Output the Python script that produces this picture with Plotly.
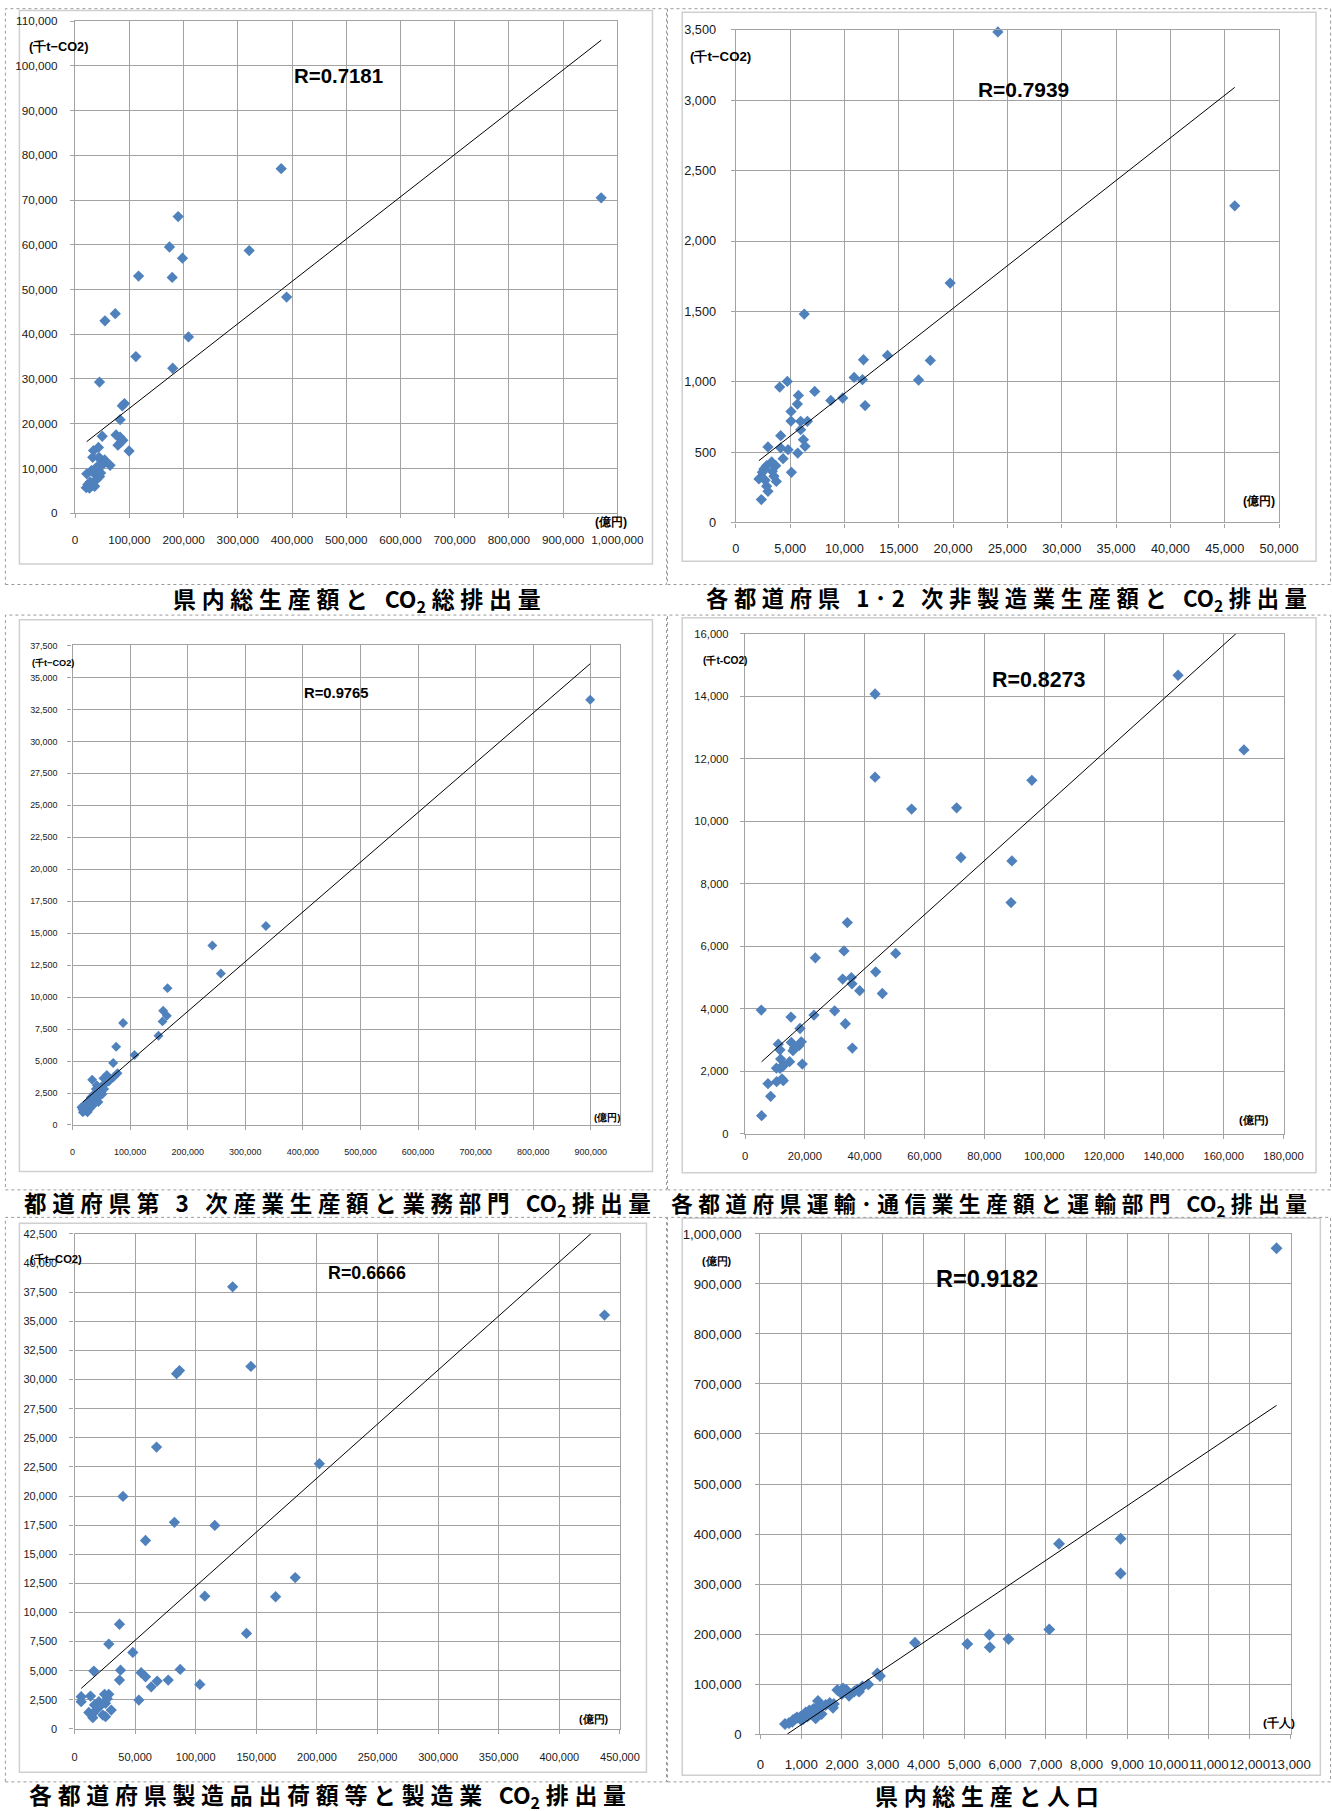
import plotly.graph_objects as go

# ---------------------------------------------------------------- data
# 1) 県内総生産額 (億円) vs CO2総排出量 (千t-CO2)
gdp_total = [970000, 380000, 321000, 390000, 190000, 174000, 198000, 179000, 117000, 209000,
             180000, 112000, 74000, 55000, 45000, 87000, 91000, 83000, 50000, 75500,
             83000, 88000, 79000, 85000, 99500, 43000, 34000, 32500, 44000, 48000,
             54500, 64500, 42000, 21500, 36000, 45000, 39000, 23500, 33000, 20500,
             26500, 36000, 52000, 40000, 28000, 30000, 47000]
co2_total = [70500, 77000, 58700, 48300, 66300, 59500, 57000, 52700, 53000, 39400,
             32400, 35000, 44600, 43000, 29300, 24000, 24500, 20900, 17200, 17500,
             17000, 16300, 15200, 16000, 13900, 14700, 14000, 12500, 12500, 11800,
             11900, 10700, 9700, 8800, 8800, 8200, 7500, 6400, 6300, 5700,
             5600, 6000, 11000, 10300, 7000, 9500, 9000]
trend1_x = [21200, 970200]
trend1_y = [15980, 105730]

# 2) 1・2次非製造業生産額 vs CO2排出量
nonmfg_output = [24120, 45920, 19730, 6300, 17900, 13960, 11750, 10890, 11660, 16820,
                 11900, 9840, 8740, 7260, 4740, 4040, 5760, 5670, 5080, 5080,
                 5970, 6590, 5970, 6220, 6370, 5700, 4810, 4130, 4130, 2960,
                 4350, 5120, 3670, 2840, 3360, 3730, 2440, 2130, 2840, 2960,
                 2350, 2590, 3510, 2700, 3300]
nonmfg_co2 = [3486, 2250, 1701, 1481, 1151, 1187, 1156, 1030, 1014, 1012,
              830, 884, 867, 931, 1002, 962, 902, 841, 789, 720,
              718, 718, 659, 588, 541, 493, 517, 616, 529, 536,
              453, 356, 403, 403, 363, 291, 356, 309, 257, 221,
              162, 380, 328, 300, 430]
trend2_x = [2132, 45920]
trend2_y = [439, 3092]

# 3) 第3次産業生産額 vs 業務部門CO2排出量
tertiary_output = [898900, 335800, 242800, 257600, 165000, 157400, 156300, 163800, 149300, 107600,
                   87900, 75800, 70600, 78100, 71100, 59500, 53800, 34100, 56100, 50300,
                   40400, 49100, 54900, 46200, 37500, 52000, 31800, 43300, 34700, 26000,
                   28900, 20200, 15500, 23100, 26000, 17300, 31800, 38000, 30000, 45000,
                   22000, 35000, 40000, 27000, 18000, 63000, 42000]
commercial_co2 = [33250, 15560, 14040, 11850, 10700, 8930, 8100, 8540, 6980, 5470,
                  7970, 6120, 4840, 4040, 3725, 3910, 3645, 3540, 3200, 3020,
                  2810, 2680, 2810, 2420, 2420, 2420, 2150, 2080, 1900, 1770,
                  1510, 1380, 1380, 1120, 990, 1200, 1640, 2000, 1300, 1800,
                  1600, 1500, 2300, 1100, 1000, 3400, 3100]
trend3_x = [17270, 898900]
trend3_y = [1770, 36070]

# 4) 運輸・通信業生産額 vs 運輸部門CO2排出量
transport_output = [144750, 166770, 43470, 43470, 55680, 70740, 95880, 72160, 89210, 88920,
                    34200, 33080, 23500, 50360, 43670, 32640, 35540, 35760, 38330, 45900,
                    29960, 33530, 35870, 23050, 5440, 15360, 18370, 11120, 11680, 15470,
                    16020, 18810, 18040, 14910, 19150, 11910, 11680, 12460, 12350, 10570,
                    7670, 8560, 5550, 12800, 16500, 10500, 13000]
transport_co2 = [14670, 12280, 14070, 11410, 10390, 10430, 11310, 8840, 8730, 7400,
                 6760, 5850, 5630, 5770, 5185, 4950, 5000, 4800, 4580, 4490,
                 3937, 3522, 2745, 3800, 3960, 3735, 3370, 2870, 2690, 2925,
                 2660, 2945, 2820, 2308, 2233, 2393, 2095, 2148, 1755, 1670,
                 1605, 1200, 583, 1700, 2750, 2100, 2200]
trend4_x = [5550, 166770]
trend4_y = [2307, 16230]

# 5) 製造品出荷額等 vs 製造業CO2排出量
shipments = [437300, 130460, 145540, 84170, 86620, 67690, 202000, 39980, 82420, 115730,
             58570, 182100, 165900, 107500, 141900, 37100, 28300, 48100, 15950, 37950,
             37100, 55000, 58600, 87200, 77300, 68200, 63300, 103400, 53100, 5500,
             5500, 13200, 24800, 28300, 20100, 16500, 25600, 11800, 13800, 15100,
             17900, 23400, 25600, 30300, 22000, 19000, 27000]
mfg_co2 = [35540, 37960, 31130, 30500, 30770, 24200, 22770, 19960, 17740, 17470,
           16180, 12999, 11350, 11400, 8200, 8990, 7290, 6570, 4970, 5050,
           4200, 4830, 4480, 5110, 4200, 4110, 3620, 3820, 2480, 2770,
           2340, 2820, 2970, 2970, 2340, 2060, 2200, 1420, 1250, 970,
           1620, 1190, 1050, 1620, 2060, 1800, 2600]
trend5_x = [5500, 437300]
trend5_y = [3480, 43560]

# 6) 人口 (千人) vs 県内総生産 (億円)
population = [12657, 7323, 8833, 8833, 7083, 6083, 5615, 5625, 5073, 3790,
              2932, 2867, 2646, 2376, 2417, 2106, 2172, 1886, 2025, 1779,
              1411, 1436, 1354, 1109, 1190, 986, 863, 781, 602, 1050,
              1250, 1600, 1800, 1150, 1000, 1700, 2000, 2300, 1500, 700,
              1200, 2500, 1300, 900, 1400, 800, 1450]
gdp_by_pop = [971400, 380700, 390700, 321200, 209300, 190000, 198500, 173700, 179900, 182600,
              115900, 121200, 99300, 89300, 84800, 87900, 76600, 87900, 91200, 52700,
              66100, 51300, 31300, 43300, 37900, 34600, 31300, 24600, 20000, 30000,
              45000, 58000, 60000, 35000, 28000, 62000, 80000, 85000, 40000, 22000,
              47000, 95000, 50000, 33000, 38000, 28000, 58000]
trend6_x = [659, 12657]
trend6_y = [0, 657100]

r_labels = ["R=0.7181", "R=0.7939", "R=0.9765", "R=0.8273", "R=0.6666", "R=0.9182"]
y_units = ["(千t−CO2)", "(千t−CO2)", "(千t−CO2)", "(千t-CO2)", "(千t−CO2)", "(億円)"]
x_units = ["(億円)", "(億円)", "(億円)", "(億円)", "(億円)", "(千人)"]
captions = ["県内総生産額と CO₂総排出量",
            "各都道府県 1･2 次非製造業生産額と CO₂排出量",
            "都道府県第 3 次産業生産額と業務部門 CO₂排出量",
            "各都道府県運輸･通信業生産額と運輸部門 CO₂排出量",
            "各都道府県製造品出荷額等と製造業 CO₂排出量",
            "県内総生産と人口"]

# ---------------------------------------------------------------- layout
# Positions below are given in sheet pixels (1332 x 1811); SX/OX and SY/OY map
# a sheet pixel onto the figure canvas, which sits inside the page body margin.
W, H = 1360, 1817
SX, OX = 0.9756, 4.6
SY, OY = 0.9922, 7.9
SANS = "Liberation Sans, Arial, sans-serif"
CJK = "Noto Sans CJK JP"
BLUE = "#4F81BD"
GRID = "#a3a3a3"
K = 1.02  # font/marker size factor for the canvas scale

series = [
    (gdp_total, co2_total, trend1_x, trend1_y),
    (nonmfg_output, nonmfg_co2, trend2_x, trend2_y),
    (tertiary_output, commercial_co2, trend3_x, trend3_y),
    (transport_output, transport_co2, trend4_x, trend4_y),
    (shipments, mfg_co2, trend5_x, trend5_y),
    (population, gdp_by_pop, trend6_x, trend6_y),
]

# plot-area pixels, axis ranges and text placement per panel
panels = [
    dict(px=(75.6, 617), py=(21, 513.6), xr=1000000, xd=100000, yr=110000, yd=10000,
         fs=11.5, msize=8.5, ystand=10, xstand=12,
         r=(338.5, 76, 20), yu=(59.3, 46, 12.5), xu=(611, 522, 12),
         box=(20, 10.3, 652, 564.5), cap=(357, 600, 22.5)),
    dict(px=(735.2, 1277.6), py=(29.9, 522.8), xr=50000, xd=5000, yr=3500, yd=500,
         fs=12.5, msize=8.5, ystand=12, xstand=10,
         r=(1022.5, 89, 20.5), yu=(719.5, 56, 13), xu=(1257.5, 501, 12),
         box=(681.7, 12.2, 1314.5, 561.8), cap=(1005, 600, 21.9)),
    dict(px=(73.0, 619.2), py=(646, 1126), xr=950000, xd=100000, yr=37500, yd=2500,
         fs=8.8, msize=7.5, ystand=8, xstand=14,
         r=(336.8, 693.4, 14.5), yu=(53.5, 663.4, 9), xu=(606.5, 1118.5, 9.5),
         box=(20, 620.2, 652, 1172.6), cap=(338, 1205, 22.1)),
    dict(px=(744.4, 1282), py=(634.2, 1134.9), xr=180000, xd=20000, yr=16000, yd=2000,
         fs=11, msize=8.5, ystand=9, xstand=8,
         r=(1037.8, 681, 21), yu=(724.5, 661, 10), xu=(1252.5, 1121, 11),
         box=(681.7, 618.3, 1314.5, 1173.8), cap=(988, 1205, 21.3)),
    dict(px=(75.0, 619.5), py=(1235.1, 1730.6), xr=450000, xd=50000, yr=42500, yd=2500,
         fs=10.8, msize=8.5, ystand=10, xstand=14,
         r=(367.3, 1273.8, 17.5), yu=(56.3, 1260.3, 11), xu=(594, 1721, 10.5),
         box=(20, 1224.3, 646, 1774), cap=(328, 1797, 22.5)),
    dict(px=(759.8, 1289), py=(1235.1, 1735.7), xr=13000, xd=1000, yr=1000000, yd=100000,
         fs=13, msize=9, ystand=11, xstand=14,
         r=(986.3, 1280.4, 23), yu=(716.8, 1261.8, 10.5), xu=(1278, 1724.8, 11.5),
         box=(681.7, 1219.3, 1318.8, 1777), cap=(986, 1797, 22.5)),
]


def fx(x):
    return (x - OX) / SX / W


def fy(y):
    return 1 - (y - OY) / SY / H


def spread(text):
    """Wide letter spacing for the captions, with CO2 kept together."""
    s = "\u2005".join(text)
    return s.replace("C\u2005O\u2005₂", "CO<sub>2</sub>")


def label(text, x, y, family, size):
    return dict(text=text, x=fx(x), y=fy(y), xref="paper", yref="paper",
                xanchor="center", yanchor="middle", showarrow=False,
                font=dict(family=family, size=size * K, color="black"))


fig = go.Figure()
layout = dict(width=W, height=H, margin=dict(l=0, r=0, t=0, b=0), autosize=False,
              paper_bgcolor="white", plot_bgcolor="white", showlegend=False)
shapes, annotations = [], []

for i, (p, (xs, ys, tx, ty)) in enumerate(zip(panels, series), start=1):
    sx = "" if i == 1 else str(i)
    fig.add_trace(go.Scatter(x=xs, y=ys, mode="markers", xaxis="x" + sx, yaxis="y" + sx,
                             marker=dict(symbol="diamond", size=p["msize"] * K, color=BLUE,
                                         line=dict(width=0)),
                             cliponaxis=False, hoverinfo="x+y"))
    fig.add_trace(go.Scatter(x=tx, y=ty, mode="lines", xaxis="x" + sx, yaxis="y" + sx,
                             line=dict(color="black", width=1), hoverinfo="skip"))

    tickfont = dict(family=SANS, size=p["fs"] * K, color="#1a1a1a")
    common = dict(showgrid=True, gridcolor=GRID, gridwidth=1.3, showline=True,
                  linecolor=GRID, linewidth=1.3, mirror=True, ticks="outside", ticklen=4,
                  tickcolor=GRID, tickwidth=1.3, tickformat=",d", tickfont=tickfont,
                  zeroline=False, tickmode="linear", tick0=0, fixedrange=True)
    layout["xaxis" + sx] = dict(common, domain=[fx(p["px"][0]), fx(p["px"][1])],
                                range=[0, p["xr"]], dtick=p["xd"], anchor="y" + sx,
                                tickangle=0, ticklabelstandoff=p["xstand"])
    layout["yaxis" + sx] = dict(common, domain=[fy(p["py"][1]), fy(p["py"][0])],
                                range=[0, p["yr"]], dtick=p["yd"], anchor="x" + sx,
                                ticklabelstandoff=p["ystand"])

    # chart frame
    bx0, by0, bx1, by1 = p["box"]
    shapes.append(dict(type="rect", xref="paper", yref="paper", x0=fx(bx0), x1=fx(bx1),
                       y0=fy(by1), y1=fy(by0), line=dict(color="#cfcfcf", width=1.5),
                       layer="below"))

    rx, ry, rs = p["r"]
    annotations.append(label("<b>%s</b>" % r_labels[i - 1], rx, ry, SANS, rs))
    ux, uy, us = p["yu"]
    annotations.append(label("<b>%s</b>" % y_units[i - 1], ux, uy, SANS, us))
    ux, uy, us = p["xu"]
    annotations.append(label("<b>%s</b>" % x_units[i - 1], ux, uy, SANS, us))
    cx, cy, cs = p["cap"]
    annotations.append(label("<b>%s</b>" % spread(captions[i - 1]), cx, cy, CJK, cs))

# dotted outer frames around each panel
for (x0, x1) in [(6, 666), (667, 1329)]:
    for (y0, y1) in [(8.6, 585), (615.6, 1191), (1218.5, 1783.6)]:
        shapes.append(dict(type="rect", xref="paper", yref="paper", x0=fx(x0), x1=fx(x1),
                           y0=fy(y1), y1=fy(y0),
                           line=dict(color="#9a9a9a", width=1, dash="dot"), layer="below"))

layout["shapes"] = shapes
layout["annotations"] = annotations
fig.update_layout(**layout)
fig.write_html("out.html", config={"responsive": False})
